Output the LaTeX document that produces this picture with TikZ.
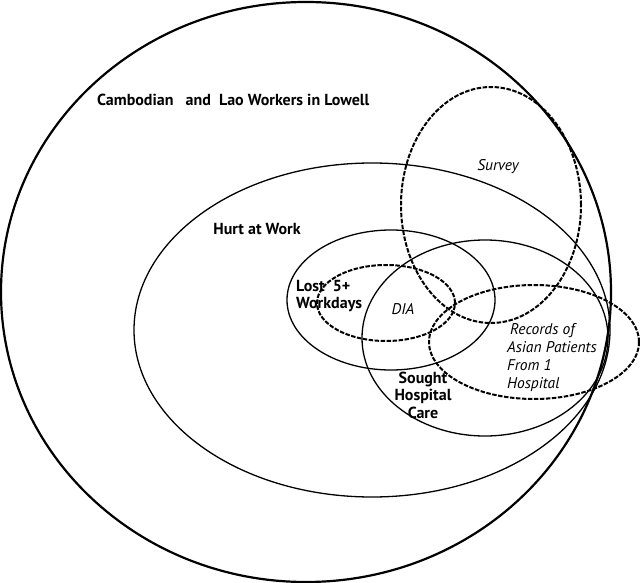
\documentclass[tikz,border=0pt]{standalone}
\usepackage{fontspec}
\setmainfont{PT Sans}
\begin{document}
\begin{tikzpicture}[x=1pt,y=-1pt,
  solidset/.style={line width=1.3pt},
  outerset/.style={line width=2.2pt},
  dashset/.style={line width=2pt, dash pattern=on 4.5pt off 1.5pt},
  boldlabel/.style={font=\fontsize{16}{17.5}\selectfont\bfseries, inner sep=0pt},
  itlabel/.style={font=\fontsize{15.5}{18}\selectfont\itshape, inner sep=0pt}]
\useasboundingbox (0,0) rectangle (640,583);
% sets
\draw[outerset] (306,292) ellipse [x radius=305pt, y radius=290pt];
\draw[solidset] (372,330) ellipse [x radius=238pt, y radius=167pt];
\draw[solidset] (391,300) ellipse [x radius=104pt, y radius=70pt];
\draw[solidset] (485,338) ellipse [x radius=123pt, y radius=98pt];
\draw[dashset] (386,303) ellipse [x radius=69pt, y radius=38pt];
\draw[dashset] (491,205) ellipse [x radius=90pt, y radius=118pt];
\draw[dashset] (534,342) ellipse [x radius=105pt, y radius=57pt];
% labels
\node[boldlabel, anchor=west] (cam) at (97,100) {Cambodian\ \ \ and\ \ Lao Workers in Lowell};
\node[boldlabel] (hurt) at (257,229) {Hurt at Work};
\node[boldlabel, align=left, anchor=west] (lost) at (296,296) {Lost\ \ 5+\\Workdays};
\node[boldlabel, align=center] (sought) at (423,395) {Sought\\Hospital\\Care};
\node[itlabel] (survey) at (498,167) {Survey};
\node[itlabel] (dia) at (403,309) {DIA};
\node[itlabel, align=left, anchor=west] (rec) at (507,358) {\hspace{3pt}Records of\\Asian Patients\\From 1\\Hospital};
\end{tikzpicture}
\end{document}
